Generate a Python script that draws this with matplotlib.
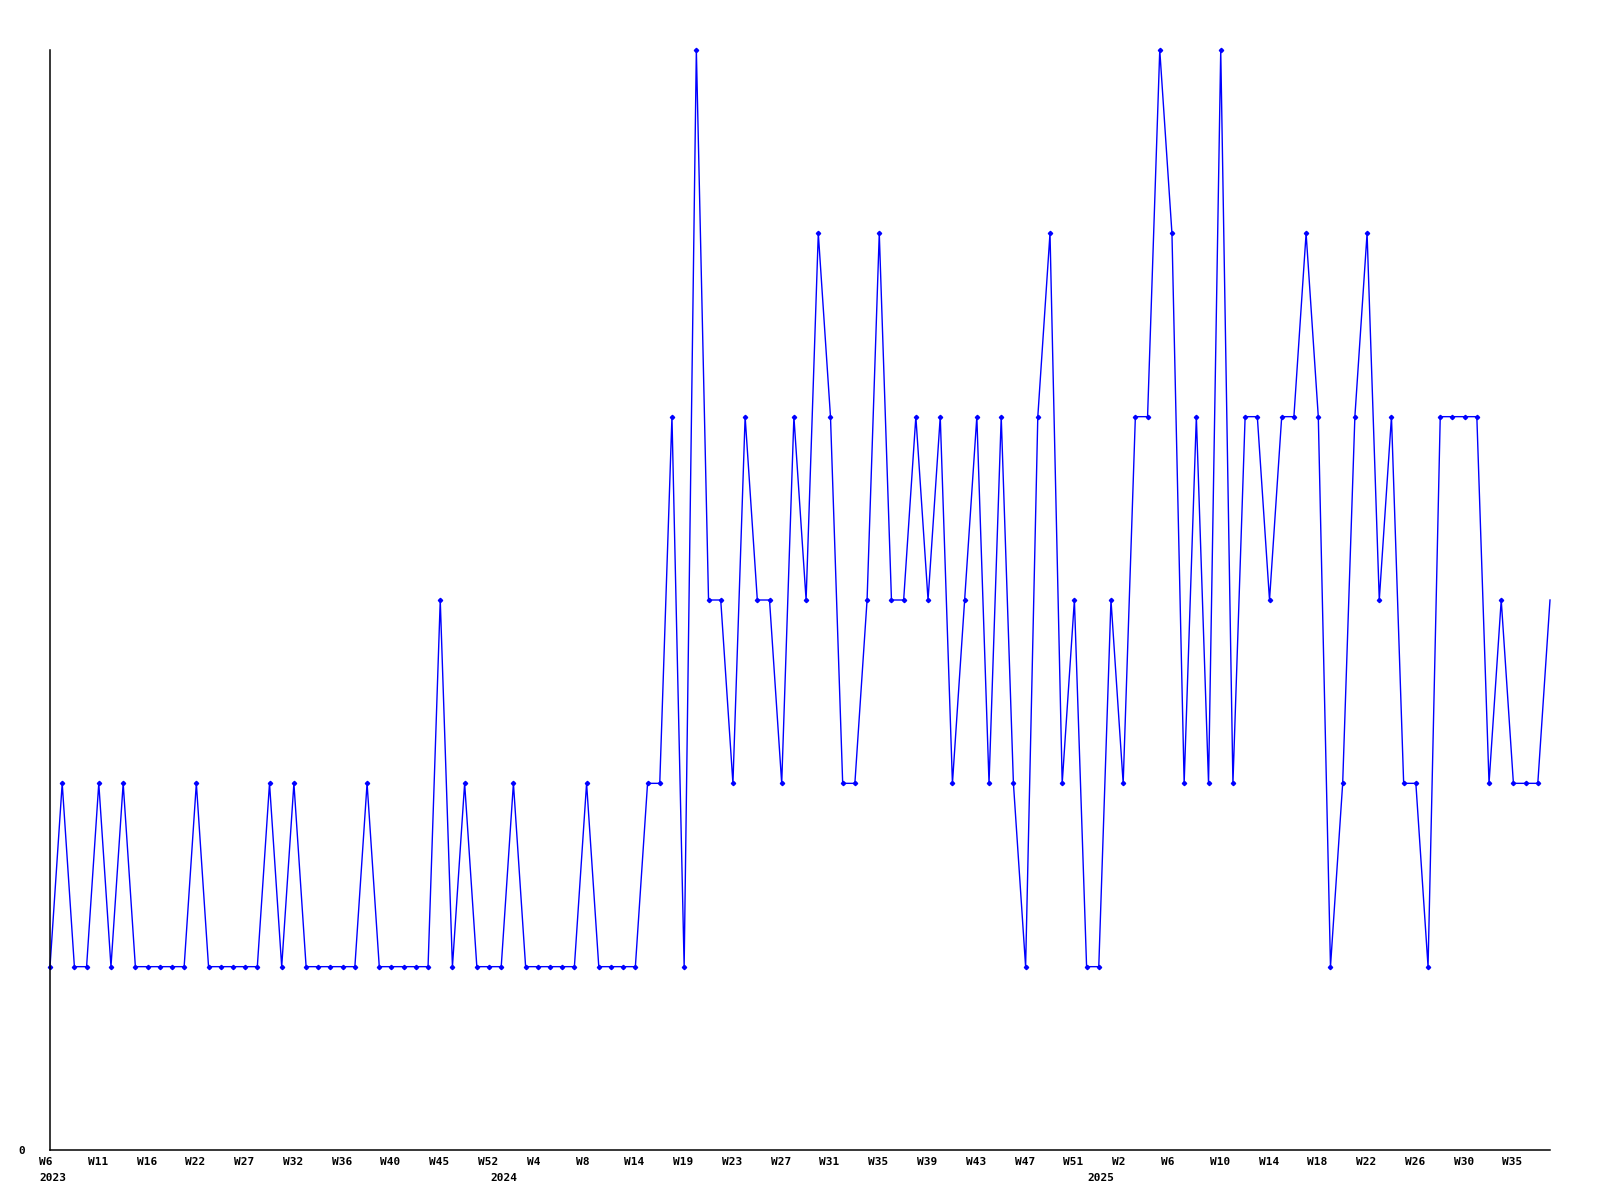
import matplotlib
matplotlib.use('Agg')
import matplotlib.pyplot as plt
import matplotlib.transforms as mtransforms

# weekly values, one per point
values = [1, 2, 1, 1, 2, 1, 2, 1, 1, 1, 1, 1, 2, 1, 1, 1, 1, 1, 2, 1,
          2, 1, 1, 1, 1, 1, 2, 1, 1, 1, 1, 1, 3, 1, 2, 1, 1, 1, 2, 1,
          1, 1, 1, 1, 2, 1, 1, 1, 1, 2, 2, 4, 1, 6, 3, 3, 2, 4, 3, 3,
          2, 4, 3, 5, 4, 2, 2, 3, 5, 3, 3, 4, 3, 4, 2, 3, 4, 2, 4, 2,
          1, 4, 5, 2, 3, 1, 1, 3, 2, 4, 4, 6, 5, 2, 4, 2, 6, 2, 4, 4,
          3, 4, 4, 5, 4, 1, 2, 4, 5, 3, 4, 2, 2, 1, 4, 4, 4, 4, 2, 3,
          2, 2, 2, 3]

week_labels = ['W6', 'W11', 'W16', 'W22', 'W27', 'W32', 'W36', 'W40', 'W45', 'W52',
               'W4', 'W8', 'W14', 'W19', 'W23', 'W27', 'W31', 'W35', 'W39', 'W43',
               'W47', 'W51', 'W2', 'W6', 'W10', 'W14', 'W18', 'W22', 'W26', 'W30',
               'W35']
label_step = 4
years = ['2023', '2024', '2025']
year_pos = [0, 37, 86]

fig = plt.figure(figsize=(16, 12), dpi=100)
ax = fig.add_axes([50/1600, 50/1200, 1500/1600, 1100/1200])

x = list(range(len(values)))
ax.plot(x, values, color='#0000ff', lw=1.0, marker='D', ms=2.2,
        markevery=list(range(len(values) - 1)), clip_on=False)

ax.set_xlim(0, len(values) - 1)
ax.set_ylim(0, 6)
for s in ['top', 'right']:
    ax.spines[s].set_visible(False)
for s in ['left', 'bottom']:
    ax.spines[s].set_linewidth(1.1)
    ax.spines[s].set_color('black')

ax.set_yticks([0])
ax.set_yticklabels(['0'], fontfamily='DejaVu Sans Mono', fontweight='bold', fontsize=8)
ax.tick_params(axis='y', length=0, pad=18)
ax.set_xticks([])

font = dict(fontfamily='DejaVu Sans Mono', fontweight='bold', fontsize=8)
off = mtransforms.offset_copy(ax.get_xaxis_transform(), fig=fig, x=-11, y=-7, units='dots')
for i, lab in enumerate(week_labels):
    ax.text(i * label_step, 0, lab, transform=off, ha='left', va='top', **font)
off2 = mtransforms.offset_copy(ax.get_xaxis_transform(), fig=fig, x=-11, y=-23, units='dots')
for yr, p in zip(years, year_pos):
    ax.text(p, 0, yr, transform=off2, ha='left', va='top', **font)

fig.savefig('out.png', dpi=100)
